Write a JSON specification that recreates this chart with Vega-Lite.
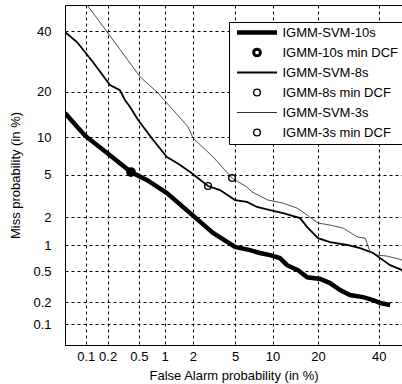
{
  "$schema": "https://vega.github.io/schema/vega-lite/v6.json",
  "width": 337,
  "height": 340,
  "autosize": {"type": "none"},
  "padding": {"left": 65, "top": 5, "right": 0, "bottom": 39},
  "background": "white",
  "config": {
    "view": {"stroke": "black", "strokeWidth": 1},
    "font": "Liberation Sans",
    "axis": {
      "grid": true,
      "gridColor": "black",
      "gridDash": [3, 3],
      "gridWidth": 1,
      "gridOpacity": 1,
      "domainColor": "black",
      "domainWidth": 1,
      "ticks": false,
      "labelFont": "Liberation Sans",
      "labelFontSize": 13,
      "labelColor": "black",
      "titleFont": "Liberation Sans",
      "titleFontSize": 13,
      "titleFontWeight": "normal",
      "titleColor": "black"
    },
    "legend": {
      "orient": "none", "legendX": 164, "legendY": 17, "title": null,
      "strokeColor": "black", "fillColor": "white", "padding": 4,
      "symbolOffset": 1.5, "labelOffset": 3, "rowPadding": 6, "clipHeight": 13,
      "labelFontSize": 13, "labelFont": "Liberation Sans", "labelColor": "black",
      "symbolStrokeColor": "black", "cornerRadius": 0, "labelLimit": 200
    }
  },
  "datasets": {
    "curves": [
      {"s": "IGMM-SVM-10s", "fa": 0.05, "miss": 14.8},
      {"s": "IGMM-SVM-10s", "fa": 0.098, "miss": 10.3},
      {"s": "IGMM-SVM-10s", "fa": 0.197, "miss": 7.6},
      {"s": "IGMM-SVM-10s", "fa": 0.40, "miss": 5.3},
      {"s": "IGMM-SVM-10s", "fa": 0.63, "miss": 4.5},
      {"s": "IGMM-SVM-10s", "fa": 1.06, "miss": 3.44},
      {"s": "IGMM-SVM-10s", "fa": 1.88, "miss": 2.2},
      {"s": "IGMM-SVM-10s", "fa": 3.16, "miss": 1.37},
      {"s": "IGMM-SVM-10s", "fa": 5.0, "miss": 0.96},
      {"s": "IGMM-SVM-10s", "fa": 6.68, "miss": 0.885},
      {"s": "IGMM-SVM-10s", "fa": 8.0, "miss": 0.82},
      {"s": "IGMM-SVM-10s", "fa": 9.57, "miss": 0.775},
      {"s": "IGMM-SVM-10s", "fa": 11.3, "miss": 0.715},
      {"s": "IGMM-SVM-10s", "fa": 12.7, "miss": 0.59},
      {"s": "IGMM-SVM-10s", "fa": 15.0, "miss": 0.515},
      {"s": "IGMM-SVM-10s", "fa": 17.2, "miss": 0.42},
      {"s": "IGMM-SVM-10s", "fa": 20.6, "miss": 0.40},
      {"s": "IGMM-SVM-10s", "fa": 23.4, "miss": 0.356},
      {"s": "IGMM-SVM-10s", "fa": 26.5, "miss": 0.29},
      {"s": "IGMM-SVM-10s", "fa": 29.7, "miss": 0.25},
      {"s": "IGMM-SVM-10s", "fa": 34.2, "miss": 0.235},
      {"s": "IGMM-SVM-10s", "fa": 37.9, "miss": 0.215},
      {"s": "IGMM-SVM-10s", "fa": 40.5, "miss": 0.196},
      {"s": "IGMM-SVM-10s", "fa": 44.3, "miss": 0.185},
      {"s": "IGMM-SVM-8s", "fa": 0.05, "miss": 39.7},
      {"s": "IGMM-SVM-8s", "fa": 0.075, "miss": 36.0},
      {"s": "IGMM-SVM-8s", "fa": 0.127, "miss": 29.0},
      {"s": "IGMM-SVM-8s", "fa": 0.215, "miss": 21.9},
      {"s": "IGMM-SVM-8s", "fa": 0.29, "miss": 20.5},
      {"s": "IGMM-SVM-8s", "fa": 0.336, "miss": 17.9},
      {"s": "IGMM-SVM-8s", "fa": 0.39, "miss": 16.2},
      {"s": "IGMM-SVM-8s", "fa": 0.49, "miss": 13.3},
      {"s": "IGMM-SVM-8s", "fa": 0.74, "miss": 9.56},
      {"s": "IGMM-SVM-8s", "fa": 1.06, "miss": 7.07},
      {"s": "IGMM-SVM-8s", "fa": 1.37, "miss": 6.3},
      {"s": "IGMM-SVM-8s", "fa": 1.88, "miss": 5.3},
      {"s": "IGMM-SVM-8s", "fa": 2.83, "miss": 3.99},
      {"s": "IGMM-SVM-8s", "fa": 3.67, "miss": 3.66},
      {"s": "IGMM-SVM-8s", "fa": 5.0, "miss": 2.95},
      {"s": "IGMM-SVM-8s", "fa": 6.3, "miss": 2.83},
      {"s": "IGMM-SVM-8s", "fa": 7.6, "miss": 2.53},
      {"s": "IGMM-SVM-8s", "fa": 9.57, "miss": 2.36},
      {"s": "IGMM-SVM-8s", "fa": 11.9, "miss": 2.2},
      {"s": "IGMM-SVM-8s", "fa": 15.5, "miss": 1.96},
      {"s": "IGMM-SVM-8s", "fa": 17.2, "miss": 1.58},
      {"s": "IGMM-SVM-8s", "fa": 20.0, "miss": 1.2},
      {"s": "IGMM-SVM-8s", "fa": 23.4, "miss": 1.09},
      {"s": "IGMM-SVM-8s", "fa": 28.8, "miss": 1.01},
      {"s": "IGMM-SVM-8s", "fa": 33.2, "miss": 0.93},
      {"s": "IGMM-SVM-8s", "fa": 37.9, "miss": 0.82},
      {"s": "IGMM-SVM-8s", "fa": 40.5, "miss": 0.715},
      {"s": "IGMM-SVM-8s", "fa": 44.3, "miss": 0.59},
      {"s": "IGMM-SVM-8s", "fa": 48.9, "miss": 0.515},
      {"s": "IGMM-SVM-3s", "fa": 0.105, "miss": 50.0},
      {"s": "IGMM-SVM-3s", "fa": 0.197, "miss": 39.7},
      {"s": "IGMM-SVM-3s", "fa": 0.52, "miss": 24.3},
      {"s": "IGMM-SVM-3s", "fa": 0.82, "miss": 20.0},
      {"s": "IGMM-SVM-3s", "fa": 1.79, "miss": 11.9},
      {"s": "IGMM-SVM-3s", "fa": 2.01, "miss": 9.9},
      {"s": "IGMM-SVM-3s", "fa": 3.16, "miss": 7.07},
      {"s": "IGMM-SVM-3s", "fa": 4.71, "miss": 4.7},
      {"s": "IGMM-SVM-3s", "fa": 6.3, "miss": 3.9},
      {"s": "IGMM-SVM-3s", "fa": 6.95, "miss": 3.52},
      {"s": "IGMM-SVM-3s", "fa": 9.26, "miss": 2.95},
      {"s": "IGMM-SVM-3s", "fa": 11.9, "miss": 2.76},
      {"s": "IGMM-SVM-3s", "fa": 14.8, "miss": 2.47},
      {"s": "IGMM-SVM-3s", "fa": 17.2, "miss": 2.1},
      {"s": "IGMM-SVM-3s", "fa": 20.0, "miss": 1.74},
      {"s": "IGMM-SVM-3s", "fa": 23.4, "miss": 1.66},
      {"s": "IGMM-SVM-3s", "fa": 27.5, "miss": 1.54},
      {"s": "IGMM-SVM-3s", "fa": 32.2, "miss": 1.24},
      {"s": "IGMM-SVM-3s", "fa": 35.0, "miss": 1.2},
      {"s": "IGMM-SVM-3s", "fa": 36.8, "miss": 0.84},
      {"s": "IGMM-SVM-3s", "fa": 39.4, "miss": 0.775},
      {"s": "IGMM-SVM-3s", "fa": 43.1, "miss": 0.755},
      {"s": "IGMM-SVM-3s", "fa": 46.2, "miss": 0.715},
      {"s": "IGMM-SVM-3s", "fa": 48.9, "miss": 0.68}
    ],
    "dcf": [
      {"s": "IGMM-10s min DCF", "fa": 0.40, "miss": 5.3},
      {"s": "IGMM-8s min DCF", "fa": 2.83, "miss": 3.99},
      {"s": "IGMM-3s min DCF", "fa": 4.71, "miss": 4.7}
    ]
  },
  "encoding": {
    "x": {
      "field": "xd", "type": "quantitative",
      "scale": {"domain": [-3.2905, -0.029], "nice": false, "zero": false},
      "axis": {
        "values": [-3.0902, -2.8782, -2.5758, -2.3263, -2.0537, -1.6449, -1.2816, -0.8416, -0.2533],
        "labelExpr": "format(cumulativeNormal(datum.value) * 100, '.1~r')",
        "labelPadding": 5,
        "title": "False Alarm probability (in %)",
        "titlePadding": 6
      }
    },
    "y": {
      "field": "yd", "type": "quantitative",
      "scale": {"domain": [-3.2905, 0], "nice": false, "zero": false},
      "axis": {
        "values": [-3.0902, -2.8782, -2.5758, -2.3263, -2.0537, -1.6449, -1.2816, -0.8416, -0.2533],
        "labelExpr": "format(cumulativeNormal(datum.value) * 100, '.1~r')",
        "labelPadding": 14,
        "title": "Miss probability (in %)",
        "titlePadding": 10
      }
    }
  },
  "layer": [
    {
      "data": {"name": "curves"},
      "transform": [
        {"filter": "datum.s == 'IGMM-SVM-10s'"},
        {"calculate": "quantileNormal(datum.fa / 100)", "as": "xd"},
        {"calculate": "quantileNormal(datum.miss / 100)", "as": "yd"}
      ],
      "mark": {"type": "line", "color": "black", "strokeWidth": 4.5, "clip": true},
      "encoding": {}
    },
    {
      "data": {"name": "curves"},
      "transform": [
        {"filter": "datum.s == 'IGMM-SVM-8s'"},
        {"calculate": "quantileNormal(datum.fa / 100)", "as": "xd"},
        {"calculate": "quantileNormal(datum.miss / 100)", "as": "yd"}
      ],
      "mark": {"type": "line", "color": "black", "strokeWidth": 1.8, "clip": true},
      "encoding": {}
    },
    {
      "data": {"name": "curves"},
      "transform": [
        {"filter": "datum.s == 'IGMM-SVM-3s'"},
        {"calculate": "quantileNormal(datum.fa / 100)", "as": "xd"},
        {"calculate": "quantileNormal(datum.miss / 100)", "as": "yd"}
      ],
      "mark": {"type": "line", "color": "#222222", "strokeWidth": 0.8, "clip": true},
      "encoding": {}
    },
    {
      "data": {"name": "dcf"},
      "transform": [
        {"calculate": "quantileNormal(datum.fa / 100)", "as": "xd"},
        {"calculate": "quantileNormal(datum.miss / 100)", "as": "yd"}
      ],
      "mark": {"type": "point", "filled": false, "color": "black", "opacity": 1, "clip": true},
      "encoding": {
        "shape": {
          "field": "s", "type": "nominal",
          "scale": {
            "domain": ["IGMM-SVM-10s", "IGMM-10s min DCF", "IGMM-SVM-8s", "IGMM-8s min DCF", "IGMM-SVM-3s", "IGMM-3s min DCF"],
            "range": ["stroke", "circle", "stroke", "circle", "stroke", "circle"]
          }
        },
        "size": {
          "field": "s", "type": "nominal",
          "scale": {
            "type": "ordinal",
            "domain": ["IGMM-SVM-10s", "IGMM-10s min DCF", "IGMM-SVM-8s", "IGMM-8s min DCF", "IGMM-SVM-3s", "IGMM-3s min DCF"],
            "range": [1600, 45, 1600, 45, 1600, 45]
          }
        },
        "strokeWidth": {
          "field": "s", "type": "nominal",
          "scale": {
            "type": "ordinal",
            "domain": ["IGMM-SVM-10s", "IGMM-10s min DCF", "IGMM-SVM-8s", "IGMM-8s min DCF", "IGMM-SVM-3s", "IGMM-3s min DCF"],
            "range": [4.5, 3, 1.8, 1.4, 0.8, 1.4]
          }
        }
      }
    }
  ]
}
